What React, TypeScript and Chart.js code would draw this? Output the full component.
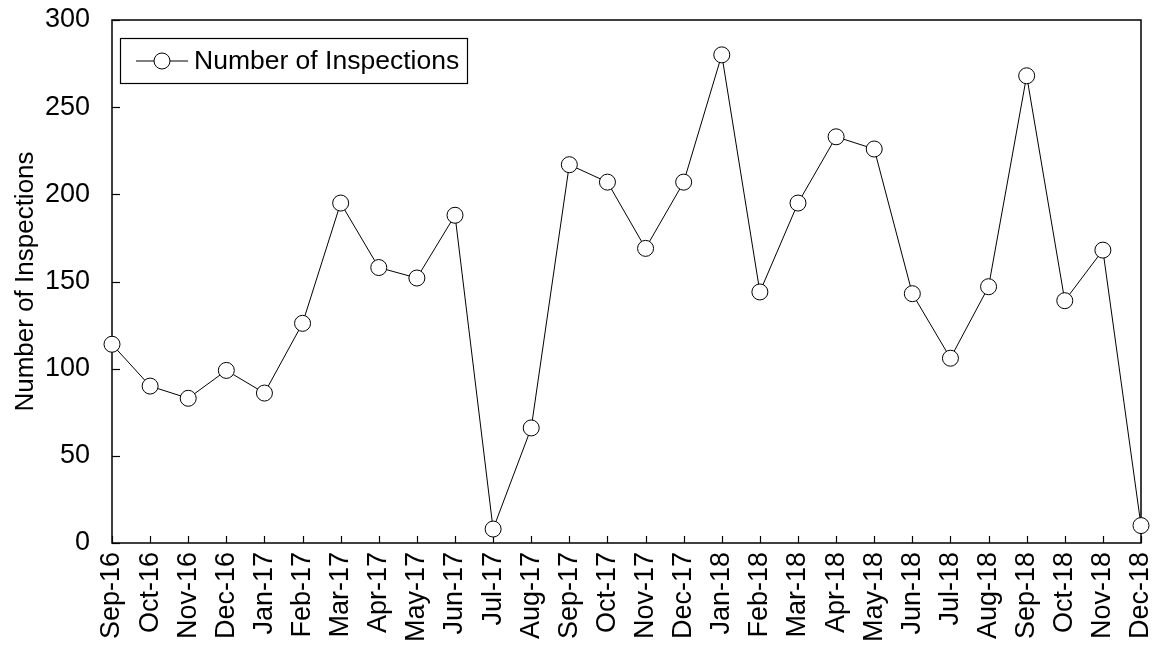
import React, { useEffect, useRef } from "react";
import { Chart, registerables } from "chart.js";

Chart.register(...registerables);

const categories = [
  "Sep-16", "Oct-16", "Nov-16", "Dec-16", "Jan-17", "Feb-17", "Mar-17", "Apr-17",
  "May-17", "Jun-17", "Jul-17", "Aug-17", "Sep-17", "Oct-17", "Nov-17", "Dec-17",
  "Jan-18", "Feb-18", "Mar-18", "Apr-18", "May-18", "Jun-18", "Jul-18", "Aug-18",
  "Sep-18", "Oct-18", "Nov-18", "Dec-18",
];

const inspections = [
  114, 90, 83, 99, 86, 126, 195, 158,
  152, 188, 8, 66, 217, 207, 169, 207,
  280, 144, 195, 233, 226, 143, 106, 147,
  268, 139, 168, 10,
];

const yMin = 0;
const yMax = 300;
const yStep = 50;

const seriesLabel = "Number of Inspections";
const yTitle = "Number of Inspections";

const FONT = "'Liberation Sans', Arial, Helvetica, sans-serif";
const TICK_SIZE = 27;
const TEXT_SIZE = 26;
const LEGEND_SIZE = 26.5;

const framePlugin = {
  id: "frameAndTicks",
  beforeDatasetsDraw(chart: any) {
    const { ctx, chartArea: a } = chart;
    ctx.save();
    ctx.strokeStyle = "#000";
    ctx.lineWidth = 1.5;
    ctx.strokeRect(a.left, a.top, a.right - a.left, a.bottom - a.top);
    ctx.lineWidth = 1.2;
    const ys = chart.scales.y;
    ys.ticks.forEach((_t: any, i: number) => {
      const p = Math.round(ys.getPixelForTick(i)) + 0.5;
      ctx.beginPath();
      ctx.moveTo(a.left, p);
      ctx.lineTo(a.left + 8, p);
      ctx.stroke();
    });
    const xs = chart.scales.x;
    xs.ticks.forEach((_t: any, i: number) => {
      const p = Math.round(xs.getPixelForTick(i)) + 0.5;
      ctx.beginPath();
      ctx.moveTo(p, a.bottom);
      ctx.lineTo(p, a.bottom - 7);
      ctx.stroke();
    });
    ctx.restore();
  },
};

const legendPlugin = {
  id: "boxLegend",
  afterDraw(chart: any) {
    const { ctx, chartArea: a } = chart;
    const x = a.left + 8;
    const y = a.top + 18;
    const w = 347;
    const h = 45;
    ctx.save();
    ctx.fillStyle = "#fff";
    ctx.fillRect(x, y, w, h);
    ctx.strokeStyle = "#000";
    ctx.lineWidth = 1.2;
    ctx.strokeRect(x + 0.5, y + 0.5, w, h);
    const cy = y + h / 2 + 0.5;
    ctx.lineWidth = 1;
    ctx.beginPath();
    ctx.moveTo(x + 16, cy);
    ctx.lineTo(x + 68, cy);
    ctx.stroke();
    ctx.beginPath();
    ctx.arc(x + 42, cy, 8, 0, Math.PI * 2);
    ctx.fillStyle = "#fff";
    ctx.fill();
    ctx.stroke();
    ctx.fillStyle = "#000";
    ctx.font = `${LEGEND_SIZE}px ${FONT}`;
    ctx.textAlign = "left";
    ctx.textBaseline = "middle";
    ctx.fillText(seriesLabel, x + 74, cy + 1);
    ctx.restore();
  },
};

export default function App() {
  const ref = useRef<HTMLCanvasElement | null>(null);

  useEffect(() => {
    if (!ref.current) return;
    const chart = new Chart(ref.current, {
      type: "line",
      data: {
        labels: categories,
        datasets: [
          {
            label: seriesLabel,
            data: inspections,
            borderColor: "#000",
            borderWidth: 1,
            backgroundColor: "#fff",
            pointRadius: 8,
            pointBorderWidth: 1,
            pointBackgroundColor: "#fff",
            pointBorderColor: "#000",
            tension: 0,
            clip: false as any,
          },
        ],
      },
      options: {
        responsive: false,
        animation: false,
        layout: { padding: { top: 20, right: 18, left: 0, bottom: 0 } },
        plugins: {
          legend: { display: false },
          tooltip: { enabled: false },
          title: { display: false },
        },
        scales: {
          x: {
            type: "category",
            offset: false,
            grid: { display: false, drawTicks: false },
            border: { display: false },
            ticks: {
              color: "#000",
              font: { family: FONT, size: TICK_SIZE },
              minRotation: 90,
              maxRotation: 90,
              autoSkip: false,
              padding: 9,
            },
            afterFit(scale: any) {
              scale.height = 105;
              scale.paddingLeft = 0;
              scale.paddingRight = 0;
            },
          },
          y: {
            min: yMin,
            max: yMax,
            grid: { display: false, drawTicks: false },
            border: { display: false },
            ticks: {
              stepSize: yStep,
              color: "#000",
              font: { family: FONT, size: TICK_SIZE },
              padding: 22,
            },
            title: {
              display: true,
              text: yTitle,
              color: "#000",
              font: { family: FONT, size: TEXT_SIZE },
              padding: { top: 10, bottom: 0 },
            },
            afterFit(scale: any) {
              scale.width = 112;
              scale.paddingTop = 0;
              scale.paddingBottom = 0;
            },
          },
        },
      },
      plugins: [framePlugin, legendPlugin],
    });
    return () => chart.destroy();
  }, []);

  return (
    <div style={{ position: "absolute", left: 0, top: 0, width: 1159, height: 648, background: "#fff" }}>
      <canvas ref={ref} width={1159} height={648} style={{ display: "block" }} />
    </div>
  );
}
